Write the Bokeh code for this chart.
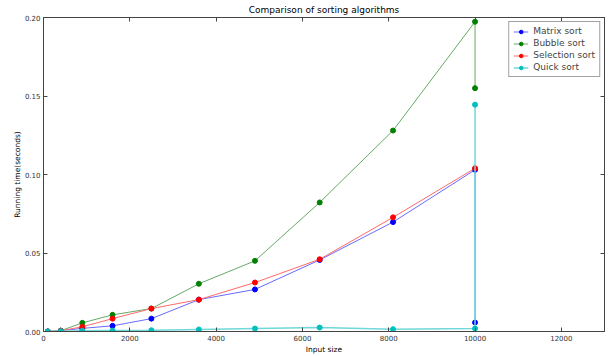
from bokeh.plotting import figure
from bokeh.models import FixedTicker, NumeralTickFormatter, LinearAxis, Range1d, Legend, CustomJSTickFormatter
from bokeh.embed import file_html
from bokeh.resources import INLINE

# ---- data ----
sizes = [100, 400, 900, 1600, 2500, 3600, 4900, 6400, 8100, 10000, 10000]
matrix_sort = [0.0, 0.0005, 0.002, 0.0036, 0.0082, 0.0203, 0.0268, 0.0456, 0.0697, 0.103, 0.0057]
bubble_sort = [0.0, 0.0005, 0.0055, 0.0106, 0.0146, 0.0304, 0.045, 0.0822, 0.128, 0.1973, 0.155]
selection_sizes = [100, 400, 900, 1600, 2500, 3600, 4900, 6400, 8100, 10000]
selection_sort = [0.0, 0.0005, 0.003, 0.0082, 0.0146, 0.0203, 0.0312, 0.046, 0.0727, 0.104]
quick_sort = [0.0, 0.0002, 0.0005, 0.0006, 0.0008, 0.0013, 0.0019, 0.0025, 0.0015, 0.0019, 0.1445]
x_ticks = [0, 2000, 4000, 6000, 8000, 10000, 12000]
y_ticks = [0.0, 0.05, 0.10, 0.15, 0.20]

FONT = "DejaVu Sans"

p = figure(width=609, height=356, output_backend="svg", toolbar_location=None,
           x_range=Range1d(0, 13000), y_range=Range1d(0, 0.2),
           title="Comparison of sorting algorithms",
           min_border_left=43, min_border_right=5, min_border_top=0, min_border_bottom=0)
p.title.align = "center"
p.title.text_font = FONT
p.title.text_font_size = "9px"
p.title.text_font_style = "normal"
p.title.standoff = 5
p.title.text_color = "black"

p.xgrid.visible = False
p.ygrid.visible = False
p.outline_line_color = "#444444"
p.outline_line_width = 1
p.background_fill_color = "white"
p.border_fill_color = "white"

for ax in (p.xaxis[0], p.yaxis[0]):
    ax.major_tick_in = 4
    ax.major_tick_out = 0
    ax.minor_tick_line_color = None
    ax.major_label_text_font = FONT
    ax.major_label_text_font_size = "7px"
    ax.major_label_text_color = "#333333"
    ax.axis_label_text_font = FONT
    ax.axis_label_text_font_size = "7.5px"
    ax.axis_label_text_font_style = "normal"
    ax.axis_label_text_color = "black"
    ax.axis_line_color = "#444444"
    ax.major_tick_line_color = "#444444"
    ax.major_label_standoff = 3
    ax.axis_label_standoff = 1

p.xaxis[0].ticker = FixedTicker(ticks=x_ticks)
p.yaxis[0].ticker = FixedTicker(ticks=y_ticks)
p.yaxis[0].formatter = NumeralTickFormatter(format="0.00")
p.xaxis[0].axis_label = "Input size"
p.yaxis[0].axis_label = "Running time(seconds)"
p.yaxis[0].major_label_standoff = 3
p.yaxis[0].axis_label_standoff = 0

# tick marks on top and right like matplotlib (no labels)
blank = CustomJSTickFormatter(code="return '';")
top = LinearAxis(ticker=FixedTicker(ticks=x_ticks), major_tick_in=4, major_tick_out=0,
                 minor_tick_line_color=None, formatter=blank,
                 major_label_standoff=0, axis_line_color="#444444", major_tick_line_color="#444444")
right = LinearAxis(ticker=FixedTicker(ticks=y_ticks), major_tick_in=4, major_tick_out=0,
                   minor_tick_line_color=None, formatter=blank,
                   major_label_standoff=0, axis_line_color="#444444", major_tick_line_color="#444444")
p.add_layout(top, "above")
p.add_layout(right, "right")

series = [
    ("Matrix sort", sizes, matrix_sort, "#0000ff", "#6a6aff", 1),
    ("Bubble sort", sizes, bubble_sort, "#008000", "#66aa66", 1),
    ("Selection sort", selection_sizes, selection_sort, "#ff0000", "#ff6a6a", 1),
    ("Quick sort", sizes, quick_sort, "#00bfbf", "#70d8d8", 1.5),
]
items = []
for i, (name, xs, ys, col, lcol, lw) in enumerate(series):
    l = p.line(xs, ys, line_color=lcol, line_width=lw)
    if i == 0:
        l.level = "underlay"
    s = p.scatter(xs, ys, marker="circle", size=5, fill_color=col, line_color=col)
    items.append((name, [l, s]))

legend = Legend(items=items, location="top_right")
legend.label_text_font = FONT
legend.label_text_font_size = "9px"
legend.label_height = 9
legend.glyph_height = 9
legend.glyph_width = 15
legend.spacing = 2
legend.padding = 4
legend.margin = 4
legend.label_standoff = 5
legend.border_line_color = "#444444"
legend.border_line_width = 1
legend.background_fill_alpha = 1
p.add_layout(legend)

open("out.html", "w").write(file_html(p, INLINE))
